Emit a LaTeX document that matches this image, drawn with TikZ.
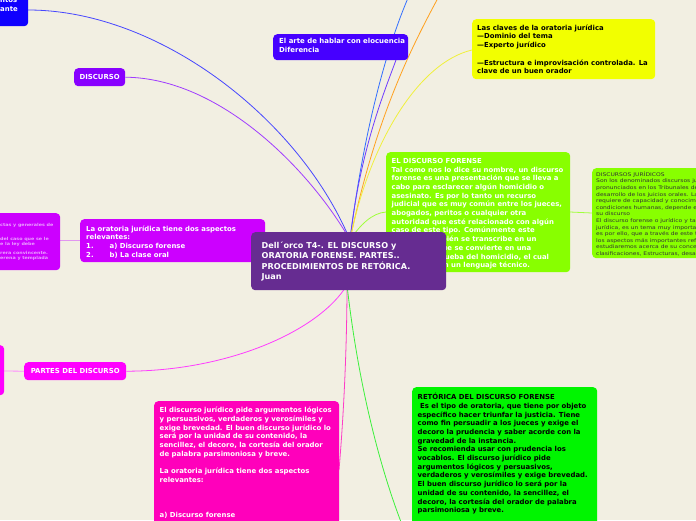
\documentclass[tikz,border=0pt]{standalone}
\usepackage{fontspec}
\setmainfont{DejaVu Sans}
\newfontfamily\widefont[FakeStretch=1.2]{DejaVu Sans}
\newfontfamily\widebold[FakeStretch=1.15]{DejaVu Sans Bold}
\usetikzlibrary{backgrounds}
\definecolor{bgc}{RGB}{242,239,226}
\definecolor{cblueA}{RGB}{15,0,255}
\definecolor{cblueB}{RGB}{70,0,255}
\definecolor{cviol}{RGB}{136,0,255}
\definecolor{cyel}{RGB}{242,255,0}
\definecolor{clgreen}{RGB}{136,255,0}
\definecolor{ccent}{RGB}{102,44,145}
\definecolor{cpurp}{RGB}{204,0,255}
\definecolor{cmag}{RGB}{255,0,255}
\definecolor{cpink}{RGB}{255,0,187}
\definecolor{cgreen}{RGB}{0,245,0}
\definecolor{lblue}{RGB}{70,70,255}
\definecolor{lblue2}{RGB}{50,110,255}
\definecolor{lviol}{RGB}{110,60,255}
\definecolor{lorange}{RGB}{255,160,30}
\definecolor{lyel}{RGB}{240,240,60}
\definecolor{llgreen}{RGB}{160,255,60}
\definecolor{lpurp}{RGB}{160,60,255}
\definecolor{lmag}{RGB}{255,60,255}
\definecolor{lpink}{RGB}{255,60,200}
\definecolor{lgreen}{RGB}{60,240,60}
\definecolor{lpurp2}{RGB}{225,150,240}
\definecolor{ltxt}{RGB}{235,160,255}
\tikzset{
  box/.style={rounded corners=4pt, fill=#1, draw=none, anchor=north west, inner sep=0pt},
  txt/.style={anchor=north west, inner sep=0pt, align=left, font=\bfseries\fontsize{6.9}{8.7}\selectfont},
  ctxt/.style={inner sep=0pt, align=center, font=\bfseries\fontsize{6.9}{8.7}\selectfont, text=white},
  conn/.style={line width=0.8pt}
}
\begin{document}
\begin{tikzpicture}[x=1pt,y=-1pt]
\begin{scope}[on background layer]
\fill[bgc] (0,0) rectangle (696,520);
\end{scope}
\useasboundingbox (0,0) rectangle (696,520);
\clip (0,0) rectangle (696,520);
% boxes
\node[box=cblueA, minimum width=78pt, minimum height=36pt] (tl) at (-50,-10) {};
\node[txt, text=white] (tlT) at (0,-2.5) {ntos\\ante};
\node[box=cblueB, minimum width=135pt, minimum height=26pt] (arte) at (273,34) {};
\node[txt, text=white, font=\bfseries\fontsize{6.95}{9}\selectfont] (arteT) at (279,38.5) {El arte de hablar con elocuencia\\Diferencia};
\node[box=cviol, minimum width=51pt, minimum height=18pt] (disc) at (74,68) {};
\node[ctxt] (discT) at (disc.center) {DISCURSO};
\node[box=cyel, minimum width=183pt, minimum height=60pt] (yel) at (472,19) {};
\node[txt, text=black] (yelT) at (477,24.5) {Las claves de la oratoria jurídica\\—Dominio del tema\\—Experto jurídico\\[8.7pt]—Estructura e improvisación controlada. La\\clave de un buen orador};
\node[box=clgreen, minimum width=184pt, minimum height=120pt] (forense) at (386,152) {};
\node[txt, text=white] (forenseT) at (391.5,158) {EL DISCURSO FORENSE\\Tal como nos lo dice su nombre, un discurso\\forense es una presentación que se lleva a\\cabo para esclarecer algún homicidio o\\asesinato. Es por lo tanto un recurso\\judicial que es muy común entre los jueces,\\abogados, peritos o cualquier otra\\autoridad que esté relacionado con algún\\caso de este tipo. Comúnmente este\\discurso también se transcribe en un\\documento que se convierte en una\\parte de la prueba del homicidio, el cual\\se redacta con un lenguaje técnico.};
\node[box=clgreen, minimum width=130pt, minimum height=90pt] (jur) at (592,168) {};
\node[anchor=north west, inner sep=0pt, align=left, text=black!80, font=\widefont\fontsize{5}{6.6}\selectfont] (jurT) at (596,171.5) {DISCURSOS JURÍDICOS\\Son los denominados discursos jurídicos\\pronunciados en los Tribunales de Justicia\\desarrollo de los juicios orales. La oratoria\\requiere de capacidad y conocimientos\\condiciones humanas, depende el resultado\\su discurso\\El discurso forense o jurídico y también\\jurídica, es un tema muy importante,\\es por ello, que a través de este trabajo\\los aspectos más importantes referentes\\estudiaremos acerca de su concepto,\\clasificaciones, Estructuras, desarrollo};
\node[box=cpurp, minimum width=80pt, minimum height=57pt] (lp) at (-20,213) {};
\node[anchor=north west, inner sep=0pt, align=left, text=ltxt, font=\widebold\fontsize{4.2}{4.6}\selectfont] (lpT) at (0,223.5) {ctas y generales de\\[9.2pt]del caso que se le\\e la ley debe\\[4.6pt]rera convincente.\\erena y templada};
\node[box=cpurp, minimum width=185pt, minimum height=43pt] (orat) at (80,219) {};
\node[txt, text=white] (oratT) at (86,225.5) {La oratoria jurídica tiene dos aspectos\\relevantes:\\1.\hspace{16pt}a) Discurso forense\\2.\hspace{16pt}b) La clase oral};
\node[box=ccent, minimum width=195pt, minimum height=58pt] (cent) at (251,232) {};
\node[anchor=north west, inner sep=0pt, align=left, text=white, font=\bfseries\fontsize{8.1}{10.5}\selectfont] (centT) at (261.5,241.5) {Dell´orco T4-. EL DISCURSO y\\ORATORIA FORENSE. PARTES..\\PROCEDIMIENTOS DE RETÓRICA.\\Juan};
\node[box=cmag, minimum width=24pt, minimum height=50pt] (lm) at (-20,345) {};
\node[box=cmag, minimum width=102pt, minimum height=18pt] (partes) at (24,362) {};
\node[ctxt] (partesT) at (partes.center) {PARTES DEL DISCURSO};
\node[box=cpink, minimum width=185pt, minimum height=140pt] (pink) at (154,401) {};
\node[txt, text=white] (pinkT) at (159.5,407) {El discurso jurídico pide argumentos lógicos\\y persuasivos, verdaderos y verosímiles y\\exige brevedad. El buen discurso jurídico lo\\será por la unidad de su contenido, la\\sencillez, el decoro, la cortesía del orador\\de palabra parsimoniosa y breve.\\[8.7pt]La oratoria jurídica tiene dos aspectos\\relevantes:\\[26.1pt]a) Discurso forense};
\node[box=cgreen, minimum width=185pt, minimum height=150pt] (ret) at (412,387) {};
\node[txt, text=black] (retT) at (417.5,393) {RETÓRICA DEL DISCURSO FORENSE\\\ Es el tipo de oratoria, que tiene por objeto\\específico hacer triunfar la justicia. Tiene\\como fin persuadir a los jueces y exige el\\decoro la prudencia y saber acorde con la\\gravedad de la instancia.\\Se recomienda usar con prudencia los\\vocablos. El discurso jurídico pide\\argumentos lógicos y persuasivos,\\verdaderos y verosímiles y exige brevedad.\\El buen discurso jurídico lo será por la\\unidad de su contenido, la sencillez, el\\decoro, la cortesía del orador de palabra\\parsimoniosa y breve.};
\coordinate (cTop) at (350,240);
\coordinate (cBot) at (347,285);
\coordinate (upB) at (408,-2);
\coordinate (upO) at (438,-2);
\coordinate (downG) at (401,522);
% connectors
\begin{scope}[on background layer]
\draw[conn, lblue] (28,10) .. controls (160,10) and (300,120) .. (cTop);
\draw[conn, lpurp] (disc.east) .. controls (220,78) and (310,170) .. (cTop);
\draw[conn, lblue2] (cTop) .. controls (365,120) and (390,40) .. (upB);
\draw[conn, lviol] (cTop) .. controls (360,150) and (385,90) .. (396,60);
\draw[conn, lorange] (cTop) .. controls (375,120) and (410,50) .. (upO);
\draw[conn, lyel] (cTop) .. controls (370,140) and (420,62) .. (472,50);
\draw[conn, llgreen] (cTop) .. controls (360,225) and (372,213) .. (386,212);
\draw[conn, llgreen] (570,212) -- (592,213);
\draw[conn, lpurp2] (lp.east |- 0,240) -- (80,240);
\draw[conn, lmag] (partes.east) .. controls (230,371) and (320,330) .. (cBot);
\draw[conn, lmag!60] (4,371) -- (partes.west);
\draw[conn, lpink] (339,470) .. controls (345,400) and (347,330) .. (cBot);
\draw[conn, lgreen] (cBot) .. controls (360,400) and (385,480) .. (downG);
\end{scope}
\end{tikzpicture}
\end{document}
